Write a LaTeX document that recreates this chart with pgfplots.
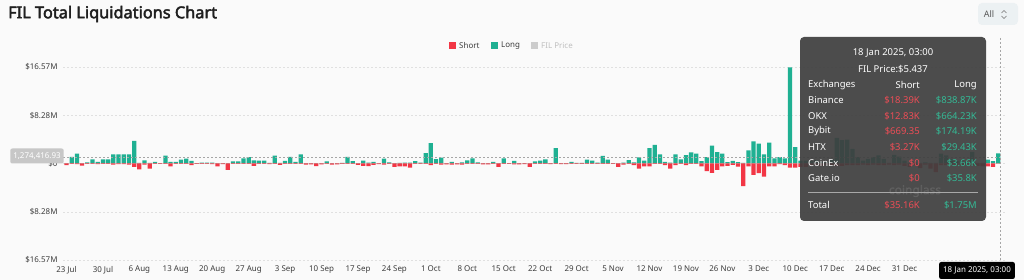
\documentclass[border=0pt]{standalone}
\usepackage{fontspec}
\setmainfont{Noto Sans}
\newfontfamily\titlefont{Noto Sans}[FakeBold=2.6]
\usepackage{pgfplots}
\pgfplotsset{compat=1.18}
\usepackage{pgfplotstable}
\definecolor{longc}{RGB}{31,176,146}
\definecolor{shortc}{RGB}{242,54,69}
\definecolor{bgc}{RGB}{250,250,250}
\definecolor{labc}{RGB}{60,60,60}
\definecolor{tipc}{RGB}{62,62,62}
\definecolor{tipred}{RGB}{236,76,86}
\definecolor{tipgreen}{RGB}{52,186,150}
\definecolor{btnc}{RGB}{236,241,243}
\pgfplotstableread{
d L S
0 0.05 -0.3
1 1.15 -0.08
2 1.7 -0.1
3 0.05 -0.35
4 0.2 -0.08
5 0.7 -0.08
6 0.3 -0.1
7 0.7 -0.08
8 0.7 -0.08
9 1.55 -0.2
10 1.55 -0.1
11 1.55 -0.1
12 1.55 -0.2
13 3.9 -0.6
14 0.1 -1.0
15 0.55 -0.2
16 0.1 -0.9
17 0.3 -0.08
18 0.05 -0.08
19 1.35 -0.08
20 0.3 -0.5
21 0.3 -0.08
22 0.65 -0.08
23 0.85 -0.08
24 0.45 -0.3
25 0.05 -0.08
26 0.15 -0.08
27 0.15 -0.08
28 0.15 -0.1
29 0.05 -0.5
30 0.05 -0.1
31 0.05 -1.1
32 0.35 -0.08
33 0.35 -0.08
34 0.9 -0.08
35 1.1 -0.08
36 0.55 -0.4
37 0.5 -0.08
38 0.5 -0.08
39 0.1 -0.1
40 1.35 -0.08
41 0.1 -0.25
42 0.45 -0.08
43 1.15 -0.08
44 0.3 -0.08
45 1.55 -0.08
46 0.05 -0.2
47 0.05 -0.15
48 0.05 -0.45
49 0.05 -0.15
50 0.35 -0.08
51 0.05 -0.2
52 0.05 -0.15
53 0.1 -0.08
54 1.15 -0.08
55 0.4 -0.08
56 0.05 -0.25
57 0.5 -0.4
58 0.15 -0.45
59 0.3 -0.25
60 0.05 -0.1
61 0.85 -0.2
62 0.2 -0.08
63 0.05 -0.6
64 0.1 -0.5
65 0.15 -0.5
66 0.15 -0.7
67 0.4 -0.08
68 0.15 -0.08
69 1.8 -0.08
70 3.5 -0.3
71 0.75 -0.08
72 1.0 -0.2
73 0.05 -0.15
74 0.3 -0.2
75 0.05 -0.15
76 0.2 -0.2
77 0.55 -0.08
78 0.9 -0.08
79 0.2 -0.08
80 0.05 -0.15
81 0.05 -0.15
82 0.3 -0.08
83 0.05 -0.6
84 0.9 -0.08
85 0.05 -0.08
86 0.45 -0.15
87 0.05 -0.15
88 0.05 -0.1
89 0.05 -0.6
90 0.35 -0.08
91 0.5 -0.08
92 0.7 -0.08
93 0.05 -0.1
94 2.65 -0.08
95 0.05 -0.1
96 0.05 -0.1
97 0.3 -0.08
98 0.1 -0.08
99 0.1 -0.08
100 0.65 -0.08
101 0.5 -0.08
102 0.15 -0.08
103 1.3 -0.08
104 0.65 -0.08
105 0.05 -0.08
106 0.05 -0.6
107 0.15 -0.2
108 0.6 -0.08
109 0.2 -0.3
110 1.05 -0.9
111 0.5 -0.5
112 2.65 -0.5
113 3.2 -0.08
114 1.55 -0.08
115 0.3 -0.3
116 0.15 -0.9
117 1.55 -0.3
118 0.7 -0.08
119 1.45 -0.3
120 1.9 -0.08
121 1.7 -0.08
122 0.4 -0.5
123 1.1 -1.3
124 3.05 -1.6
125 1.95 -1.1
126 1.7 -0.5
127 0.25 -0.4
128 0.45 -0.25
129 0.25 -0.55
130 0.1 -3.9
131 2.25 -0.5
132 3.8 -1.95
133 3.4 -1.65
134 1.55 -2.25
135 3.6 -0.5
136 0.9 -0.5
137 1.1 -0.1
138 0.9 -0.3
139 16.5 -0.7
140 2.8 -0.7
141 0.5 -0.6
142 0.5 -0.6
143 0.4 -0.3
144 0.6 -0.3
145 0.3 -0.4
146 0.3 -0.2
147 0.7 -0.3
148 4.4 -0.4
149 4.0 -0.4
150 4.1 -0.3
151 2.5 -0.3
152 1.1 -0.3
153 0.5 -0.2
154 0.8 -0.3
155 1.1 -0.2
156 1.4 -0.3
157 0.8 -0.3
158 0.1 -0.2
159 1.5 -0.3
160 1.2 -0.2
161 0.5 -0.4
162 0.1 -0.6
163 0.2 -0.3
164 0.1 -0.8
165 0.2 -0.2
166 0.1 -0.9
167 0.1 -1.5
168 1.7 -0.3
169 1.4 -0.3
170 0.8 -0.2
171 0.4 -0.3
172 0.5 -0.3
173 0.3 -0.2
174 2.0 -0.3
175 0.1 -0.4
176 0.1 -0.5
177 0.65 -0.5
178 0.4 -0.6
179 1.75 -0.04
}\liq
\begin{document}
\begin{tikzpicture}
\path[fill=bgc] (0,0) rectangle (1024bp,280bp);
\path[use as bounding box] (0,0) rectangle (1024bp,280bp);
\begin{axis}[
  at={(63bp,20bp)}, anchor=south west,
  scale only axis, width=942bp, height=193bp,
  xmin=-0.67, xmax=180.3, ymin=-16.57, ymax=16.57,
  axis line style={draw=none}, major tick length=0pt,
  ytick={-16.57,-8.28,0,8.28,16.57},
  yticklabels={\mbox{\$16.57M},\mbox{\$8.28M},\mbox{\$0},\mbox{\$8.28M},\mbox{\$16.57M}},
  ymajorgrids, grid style={draw=black!12, dash pattern=on 2bp off 2bp},
  xtick={0,7,...,161},
  xticklabels={23 Jul,30 Jul,6 Aug,13 Aug,20 Aug,27 Aug,3 Sep,10 Sep,17 Sep,24 Sep,1 Oct,8 Oct,15 Oct,22 Oct,29 Oct,5 Nov,12 Nov,19 Nov,26 Nov,3 Dec,10 Dec,17 Dec,24 Dec,31 Dec},
  tick label style={font=\fontsize{8}{9}\selectfont, text=labc},
  yticklabel style={xshift=-2bp},
  xticklabel style={yshift=-2.5bp},
  clip=false,
]
\addplot[ybar, bar width=0.82, bar shift=0pt, fill=longc, draw=none] table[x=d,y=L]{\liq};
\addplot[ybar, bar width=0.82, bar shift=0pt, fill=shortc, draw=none] table[x=d,y=S]{\liq};
\end{axis}
\begin{scope}[x=1bp, y=-1bp, yshift=280bp]
% title
\node[anchor=west, inner sep=0pt, font=\fontsize{16.4}{18}\selectfont\titlefont, text=black!88] at (8,14) {FIL Total Liquidations Chart};
% All button
\fill[btnc, rounded corners=4bp] (978,3) rectangle (1018,25);
\node[inner sep=0pt, font=\fontsize{9}{10}\selectfont, text=black!65] at (989,14.5) {All};
\draw[black!55, line width=0.6bp] (1001.5,13) -- (1004,10.5) -- (1006.5,13);
\draw[black!55, line width=0.6bp] (1001.5,16) -- (1004,18.5) -- (1006.5,16);
% legend
\fill[shortc] (449,42.5) rectangle (456,49.5);
\node[anchor=west, inner sep=0pt, font=\fontsize{8}{9}\selectfont, text=labc] at (459,46) {Short};
\fill[longc] (491,42.5) rectangle (498,49.5);
\node[anchor=west, inner sep=0pt, font=\fontsize{8}{9}\selectfont, text=labc] at (501,46) {Long};
\fill[black!20] (531,42.5) rectangle (538,49.5);
\node[anchor=west, inner sep=0pt, font=\fontsize{8}{9}\selectfont, text=black!25] at (541,46) {FIL Price};
% crosshair
\draw[black!35, dash pattern=on 2bp off 2bp] (63,157) -- (1000,157);
\draw[black!35, dash pattern=on 2bp off 2bp] (1000,38) -- (1000,262);
\node[fill=black!22, rounded corners=2bp, text=white, inner xsep=3bp, minimum height=15bp, font=\fontsize{8}{9}\selectfont] at (37,156) {1,274,416.93};
\node[fill=black, rounded corners=2bp, text=white, inner xsep=4bp, minimum height=17bp, font=\fontsize{8}{9}\selectfont] at (977,270.5) {18 Jan 2025, 03:00};
% tooltip
\fill[tipc, fill opacity=0.92, rounded corners=4bp] (800,37) rectangle (986,221);
% watermark (faint, seen through the tooltip)
\node[text=white, opacity=0.08, font=\fontsize{12}{13}\selectfont\titlefont] at (915,191) {coinglass};
\begin{scope}[every node/.style={inner sep=0pt, font=\fontsize{9.5}{11}\selectfont}]
\node[text=white] at (893,53) {18 Jan 2025, 03:00};
\node[text=white] at (893,69) {FIL Price:\$5.437};
\node[text=white, anchor=west] at (808,85) {Exchanges};
\node[text=white, anchor=east] at (920,85) {Short};
\node[text=white, anchor=east] at (977,85) {Long};
\foreach \n/\s/\l/\y in {Binance/\$18.39K/\$838.87K/100, OKX/\$12.83K/\$664.23K/116, Bybit/\$669.35/\$174.19K/131, HTX/\$3.27K/\$29.43K/147, CoinEx/\$0/\$3.66K/163, Gate.io/\$0/\$35.8K/178, Total/\$35.16K/\$1.75M/205}{
  \node[text=white, anchor=west] at (808,\y) {\n};
  \node[text=tipred, anchor=east] at (920,\y) {\s};
  \node[text=tipgreen, anchor=east] at (977,\y) {\l};
}
\end{scope}
\draw[white!55!tipc, line width=0.6bp] (808,192) -- (978,192);
\end{scope}
\end{tikzpicture}
\end{document}
